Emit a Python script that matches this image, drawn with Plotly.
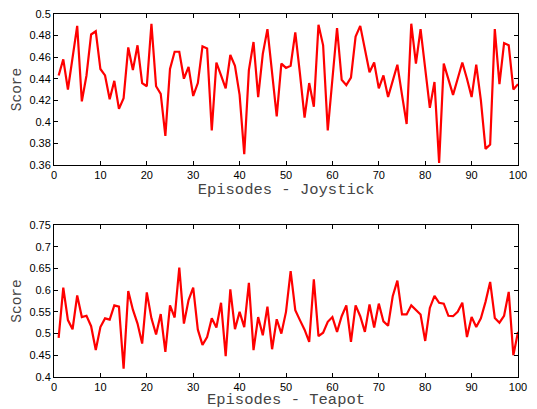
import plotly.graph_objects as go
from plotly.subplots import make_subplots

episodes = list(range(1, 101))

joystick_scores = [
    0.443, 0.458, 0.430, 0.460, 0.489, 0.419, 0.443, 0.481, 0.484, 0.449,
    0.443, 0.421, 0.438, 0.412, 0.422, 0.469, 0.448, 0.471, 0.436, 0.433,
    0.491, 0.433, 0.426, 0.387, 0.449, 0.465, 0.465, 0.440, 0.451, 0.424,
    0.436, 0.470, 0.468, 0.392, 0.455, 0.443, 0.431, 0.462, 0.452, 0.425,
    0.370, 0.448, 0.474, 0.423, 0.463, 0.486, 0.445, 0.405, 0.454, 0.450,
    0.452, 0.483, 0.445, 0.404, 0.436, 0.414, 0.490, 0.471, 0.392, 0.440,
    0.487, 0.439, 0.434, 0.441, 0.479, 0.489, 0.466, 0.446, 0.455, 0.431,
    0.443, 0.423, 0.438, 0.453, 0.425, 0.398, 0.491, 0.454, 0.486, 0.450,
    0.413, 0.437, 0.362, 0.454, 0.440, 0.425, 0.440, 0.455, 0.440, 0.423,
    0.453, 0.420, 0.375, 0.379, 0.486, 0.435, 0.473, 0.471, 0.430, 0.435,
]

teapot_scores = [
    0.490, 0.606, 0.531, 0.510, 0.588, 0.538, 0.541, 0.517, 0.462, 0.515,
    0.535, 0.532, 0.565, 0.562, 0.419, 0.598, 0.555, 0.523, 0.477, 0.595,
    0.535, 0.498, 0.545, 0.458, 0.565, 0.537, 0.652, 0.523, 0.577, 0.606,
    0.509, 0.474, 0.492, 0.535, 0.514, 0.571, 0.448, 0.602, 0.510, 0.550,
    0.515, 0.617, 0.462, 0.538, 0.496, 0.562, 0.464, 0.533, 0.500, 0.550,
    0.644, 0.554, 0.531, 0.509, 0.481, 0.625, 0.494, 0.502, 0.527, 0.538,
    0.504, 0.540, 0.565, 0.481, 0.565, 0.540, 0.504, 0.567, 0.514, 0.569,
    0.528, 0.518, 0.586, 0.622, 0.544, 0.544, 0.565, 0.555, 0.544, 0.483,
    0.559, 0.587, 0.571, 0.569, 0.541, 0.540, 0.550, 0.571, 0.492, 0.538,
    0.515, 0.535, 0.573, 0.619, 0.536, 0.525, 0.541, 0.596, 0.450, 0.504,
]

x_ticks = [0, 10, 20, 30, 40, 50, 60, 70, 80, 90, 100]
joystick_yticks = [0.36, 0.38, 0.40, 0.42, 0.44, 0.46, 0.48, 0.50]
joystick_ylabels = ["0.36", "0.38", "0.4", "0.42", "0.44", "0.46", "0.48", "0.5"]
teapot_yticks = [0.40, 0.45, 0.50, 0.55, 0.60, 0.65, 0.70, 0.75]
teapot_ylabels = ["0.4", "0.45", "0.5", "0.55", "0.6", "0.65", "0.7", "0.75"]

x_titles = ["Episodes - Joystick", "Episodes - Teapot"]
y_title = "Score"

fig = make_subplots(rows=2, cols=1, vertical_spacing=0.164)

fig.add_trace(go.Scatter(x=episodes, y=joystick_scores, mode="lines",
                         line=dict(color="#ff0000", width=2.2)), row=1, col=1)
fig.add_trace(go.Scatter(x=episodes, y=teapot_scores, mode="lines",
                         line=dict(color="#ff0000", width=2.2)), row=2, col=1)

tick_font = dict(family="Liberation Sans, Arial, sans-serif", size=11, color="#000")
title_font = dict(family="Liberation Mono, Courier New, monospace", size=15.5, color="#444")

common = dict(showline=True, linecolor="#000", linewidth=1, mirror="ticks",
              ticks="inside", ticklen=4, tickcolor="#000", showgrid=False,
              zeroline=False, tickfont=tick_font, automargin=False,
              ticklabeloverflow="allow")

fig.update_xaxes(range=[0, 100], tickmode="array", tickvals=x_ticks, **common)
fig.update_xaxes(title=dict(text=x_titles[0], font=title_font, standoff=0), row=1, col=1)
fig.update_xaxes(title=dict(text=x_titles[1], font=title_font, standoff=0), row=2, col=1)

fig.update_yaxes(range=[joystick_yticks[0], joystick_yticks[-1]], tickmode="array",
                 tickvals=joystick_yticks, ticktext=joystick_ylabels, row=1, col=1, **common)
fig.update_yaxes(range=[teapot_yticks[0], teapot_yticks[-1]], tickmode="array",
                 tickvals=teapot_yticks, ticktext=teapot_ylabels, row=2, col=1, **common)
fig.update_yaxes(title=dict(text=y_title, font=dict(family="Liberation Mono, Courier New, monospace",
                                                    size=14.5, color="#444"), standoff=4))

# the page body adds an 8px offset, so the figure is sized to the remaining window
fig.update_layout(
    width=529, height=401,
    margin=dict(l=46, r=19, t=6, b=32),
    paper_bgcolor="white", plot_bgcolor="white",
    showlegend=False,
)
fig.layout.yaxis.domain = [0.584, 1.0]
fig.layout.yaxis2.domain = [0.0, 0.4187]

fig.write_html("out.html")
